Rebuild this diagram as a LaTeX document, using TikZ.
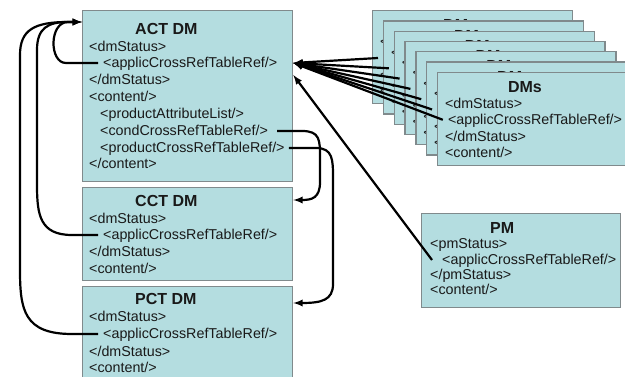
\documentclass[tikz,border=0pt]{standalone}
\usepackage{fontspec}
\setmainfont{Liberation Sans}
\usetikzlibrary{arrows, positioning}
\definecolor{boxfill}{RGB}{180,221,224}
\definecolor{boxline}{RGB}{128,138,140}
\tikzset{
	dmbox/.style={draw=boxline, line width=1.3pt, fill=boxfill, anchor=north west, inner sep=0pt},
	tag/.style={anchor=west, inner sep=0pt, text height=10pt, text depth=0pt, text=black!90, font=\fontsize{14.3}{16}\selectfont},
	head/.style={anchor=west, inner sep=0pt, text height=11.5pt, text depth=0pt, text=black!90, font=\fontsize{16}{18}\selectfont\bfseries},
	link/.style={line width=2.2pt, -latex}
}

\begin{document}
\begin{tikzpicture}[x=1pt, y=-1pt]
		\clip (0,0) rectangle (625,377);
% ACT DM
		\node[dmbox, minimum width=210pt, minimum height=171pt] (act) at (82,10) {};
		\node[head] (act0) at (135,29) {ACT DM};
		\node[tag] (act1) at (89,47) {<dmStatus>};
		\node[tag] (act2) at (103,63) {<applicCrossRefTableRef/>};
		\node[tag] (act3) at (89,80) {</dmStatus>};
		\node[tag] (act4) at (89,97) {<content/>};
		\node[tag] (act5) at (100,114) {<productAttributeList/>};
		\node[tag] (act6) at (100,131) {<condCrossRefTableRef/>};
		\node[tag] (act7) at (100,148) {<productCrossRefTableRef/>};
		\node[tag] (act8) at (89,164) {</content>};
% CCT DM
		\node[dmbox, minimum width=210pt, minimum height=93pt] (cct) at (82,187) {};
		\node[head] (cct0) at (135,201) {CCT DM};
		\node[tag] (cct1) at (89,219) {<dmStatus>};
		\node[tag] (cct2) at (103,235) {<applicCrossRefTableRef/>};
		\node[tag] (cct3) at (89,252) {</dmStatus>};
		\node[tag] (cct4) at (89,269) {<content/>};
% PCT DM
		\node[dmbox, minimum width=210pt, minimum height=94pt] (pct) at (82,286) {};
		\node[head] (pct0) at (135,299) {PCT DM};
		\node[tag] (pct1) at (89,317) {<dmStatus>};
		\node[tag] (pct2) at (103,334) {<applicCrossRefTableRef/>};
		\node[tag] (pct3) at (89,351) {</dmStatus>};
		\node[tag] (pct4) at (89,368) {<content/>};
% PM
		\node[dmbox, minimum width=199pt, minimum height=94pt] (pm) at (421,213) {};
		\node[head] (pm0) at (490,228) {PM};
		\node[tag] (pm1) at (430,244) {<pmStatus>};
		\node[tag] (pm2) at (442,260) {<applicCrossRefTableRef/>};
		\node[tag] (pm3) at (430,275) {</pmStatus>};
		\node[tag] (pm4) at (430,290) {<content/>};
% stack of DMs
\foreach \k in {0,...,6}
	{\begin{scope}[xshift=\k*10.8pt, yshift=-\k*10.3pt]
		\node[dmbox, minimum width=200pt, minimum height=93pt] (dm\k) at (372,10) {};
		\node[head] (dm\k-0) at (443,25) {\ifnum\k=6 DMs\else DM\fi};
		\node[tag] (dm\k-1) at (380,42) {<dmStatus>};
		\node[tag] (dm\k-2) at (383,58) {<applicCrossRefTableRef/>};
		\node[tag] (dm\k-3) at (380,75) {</dmStatus>};
		\node[tag] (dm\k-4) at (380,91) {<content/>};
	\end{scope}}

		\coordinate (act-in) at (act.east |- act2.west);
		\coordinate (act-top) at ([yshift=-12pt]act.north west);
\foreach \k in {0,...,6}
		\draw[link] ([xshift=-5pt]dm\k-2.west) -- (act-in);
		\draw[link] ([xshift=-10pt]pm2.west) -- ([yshift=-65pt]act.north east);
% loops on the left
		\draw[link] ([xshift=-5pt]act2.west) -- (66,63) .. controls (49,63) and (49,22) .. (68,22) -- (act-top);
		\draw[link] ([xshift=-5pt]cct2.west) -- (72,235) .. controls (40,235) and (37,215) .. (37,185) -- (37,50) .. controls (37,28) and (48,22) .. (68,22) -- (act-top);
		\draw[link] ([xshift=-5pt]pct2.west) -- (72,334) .. controls (24,334) and (20,310) .. (20,270) -- (20,55) .. controls (20,30) and (34,22) .. (68,22) -- (act-top);
% loops on the right
		\draw[link] ([xshift=9pt]act6.east) -- (302,131) .. controls (320,131) and (320,140) .. (320,158) -- (320,182) .. controls (320,198) and (312,200) .. ([yshift=-13pt]cct.north east);
		\draw[link] ([xshift=4pt]act7.east) -- (316,148) .. controls (333,148) and (333,160) .. (333,178) -- (333,284) .. controls (333,300) and (322,303) .. ([yshift=-17pt]pct.north east);

\end{tikzpicture}
\end{document}
